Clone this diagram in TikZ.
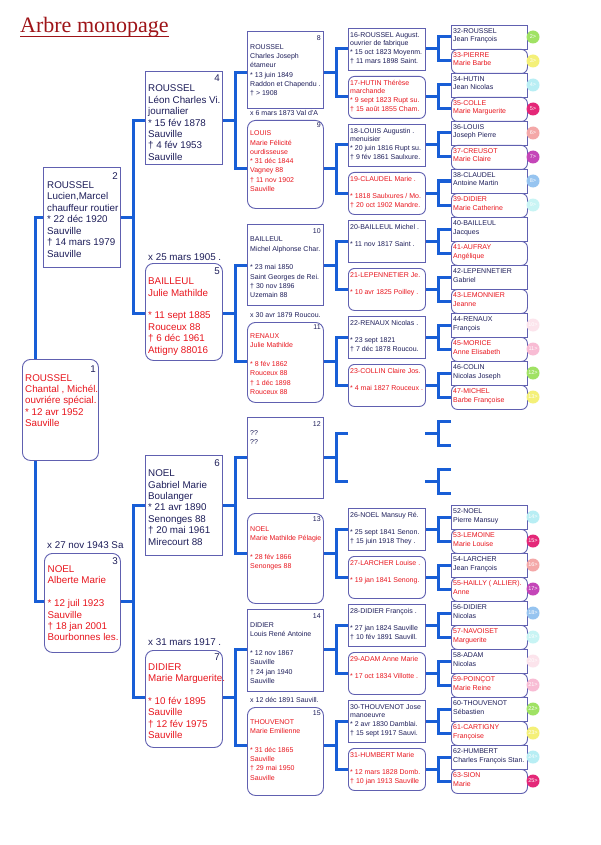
\documentclass[tikz,border=0pt]{standalone}
\usepackage{fontspec}
\setmainfont{Liberation Sans}
\newfontfamily\titlefont{Liberation Serif}
\usetikzlibrary{backgrounds}
\definecolor{connblue}{RGB}{24,94,214}
\definecolor{boxc}{RGB}{96,96,176}
\definecolor{navy}{RGB}{30,30,90}
\definecolor{redt}{RGB}{232,22,30}
\definecolor{titlered}{RGB}{158,20,24}
\definecolor{cGreen}{RGB}{160,226,100}
\definecolor{cYellow}{RGB}{244,240,120}
\definecolor{cCyan}{RGB}{184,238,244}
\definecolor{cMagenta}{RGB}{228,40,120}
\definecolor{cSalmon}{RGB}{244,168,168}
\definecolor{cPurple}{RGB}{196,70,184}
\definecolor{cBlue}{RGB}{150,196,240}
\definecolor{cPale}{RGB}{200,244,244}
\definecolor{cPalePink}{RGB}{252,228,236}
\definecolor{cPink}{RGB}{248,188,212}
\tikzset{
  conn/.style={draw=connblue, line width=3pt, line join=miter},
  mbox/.style={draw=boxc, line width=0.9pt, fill=white, rectangle, anchor=north west, inner sep=0pt},
  fbox/.style={mbox, rounded corners=8pt},
  fboxs/.style={mbox, rounded corners=6pt},
  ghost/.style={rectangle, anchor=north west, inner sep=0pt},
  txt/.style={anchor=base west, inner sep=0pt},
  num/.style={anchor=base east, inner sep=0pt, text=navy},
  badge/.style={circle, inner sep=0pt, minimum size=13pt, text=white, font=\fontsize{5.5}{5.5}\selectfont},
}
\newcommand\fA{\fontsize{9.8}{11.4}\selectfont}
\newcommand\fB{\fontsize{7}{9.3}\selectfont}
\newcommand\fC{\fontsize{7}{8.7}\selectfont}
\newcommand\fD{\fontsize{7}{8.7}\selectfont}
\newcommand\ptx[2]{\parbox[t]{130pt}{#1\raggedright #2}}
\newcommand\famlink[6]{%
  \coordinate (fa) at (#4,#5);
  \coordinate (fb) at (#4,#6);
  \coordinate (fm) at (#4,{(#5+#6)/2});
  \draw[conn] (#1.east |- fm) -- (fm);
  \draw[conn] (#2.west |- fa) -- (fa) -- (fb) -- (#3.west |- fb);
}
\newcommand\gthree[8]{%
  \node[#1, minimum width=76pt, minimum height=#4pt] (b#2) at (247,#3) {};
  \node[txt,text=#5] (t#2) at ([shift={(3,#6)}]b#2.north west) {\ptx\fB{#8}};
  \node[num,font=\fB] (n#2) at ([shift={(-3,#7)}]b#2.north east) {#2};
}
\newcommand\gfour[5]{%
  \node[#1, minimum width=77pt, minimum height=42pt] (b#2) at (348,#3) {};
  \node[txt,text=#4] (t#2) at ([shift={(2,9.2)}]b#2.north west) {\ptx\fC{#5}};
}
\begin{document}
\begin{tikzpicture}[x=1pt,y=-1pt]
\useasboundingbox (0,0) rectangle (600,845);

% title
\node[anchor=base west, inner sep=0pt, text=titlered, font=\titlefont\fontsize{22}{24}\selectfont] (title) at (20,33) {Arbre monopage};
\draw[titlered, line width=1.1pt] ([shift={(0,3.5)}]title.base west) -- ([shift={(0,3.5)}]title.base east);

% generation 0-1
\node[fbox, minimum width=76pt, minimum height=101pt] (b1) at (22,359) {};
\node[txt,text=redt] (t1) at ([shift={(3,22)}]b1.north west) {\ptx\fA{ROUSSEL\\Chantal , Michél.\\ouvriére spécial.\\{*} 12 avr 1952\\Sauville}};
\node[num,font=\fA] (n1) at ([shift={(-3,13)}]b1.north east) {1};

\node[mbox, minimum width=77pt, minimum height=100pt] (b2) at (43,167) {};
\node[txt,text=navy] (t2) at ([shift={(4,21.6)}]b2.north west) {\ptx\fA{ROUSSEL\\Lucien,Marcel\\chauffeur routier\\{*} 22 déc 1920\\Sauville\\† 14 mars 1979\\Sauville}};
\node[num,font=\fA] (n2) at ([shift={(-3,12)}]b2.north east) {2};

\node[txt,text=navy] (l3) at (47,548.5) {\fA x 27 nov 1943 Sa};
\node[fbox, minimum width=76pt, minimum height=99pt] (b3) at (44,553) {};
\node[txt,text=redt] (t3) at ([shift={(3.5,19.5)}]b3.north west) {\ptx\fA{NOEL\\Alberte Marie\\~\\{*} 12 juil 1923\\Sauville\\† 18 jan 2001\\Bourbonnes les.}};
\node[num,font=\fA] (n3) at ([shift={(-3,11)}]b3.north east) {3};

% generation 2
\node[mbox, minimum width=77pt, minimum height=93pt] (b4) at (145,71) {};
\node[txt,text=navy] (t4) at ([shift={(3,21)}]b4.north west) {\ptx\fA{ROUSSEL\\Léon Charles Vi.\\journalier\\{*} 15 fév 1878\\Sauville\\† 4 fév 1953\\Sauville}};
\node[num,font=\fA] (n4) at ([shift={(-3,10.5)}]b4.north east) {4};

\node[txt,text=navy] (l5) at (148,260.5) {\fA x 25 mars 1905 .};
\node[fbox, minimum width=77pt, minimum height=97pt] (b5) at (145,263) {};
\node[txt,text=redt] (t5) at ([shift={(3,21.6)}]b5.north west) {\ptx\fA{BAILLEUL\\Julie Mathilde\\~\\{*} 11 sept 1885\\Rouceux 88\\† 6 déc 1961\\Attigny 88016}};
\node[num,font=\fA] (n5) at ([shift={(-3,11.5)}]b5.north east) {5};

\node[mbox, minimum width=77pt, minimum height=100pt] (b6) at (145,455) {};
\node[txt,text=navy] (t6) at ([shift={(3,21.6)}]b6.north west) {\ptx\fA{NOEL\\Gabriel Marie\\Boulanger\\{*} 21 avr 1890\\Senonges 88\\† 20 mai 1961\\Mirecourt 88}};
\node[num,font=\fA] (n6) at ([shift={(-3,11.5)}]b6.north east) {6};

\node[txt,text=navy] (l7) at (148,645.5) {\fA x 31 mars 1917 .};
\node[fbox, minimum width=77pt, minimum height=97pt] (b7) at (145,650) {};
\node[txt,text=redt] (t7) at ([shift={(3,20)}]b7.north west) {\ptx\fA{DIDIER\\Marie Marguerite.\\~\\{*} 10 fév 1895\\Sauville\\† 12 fév 1975\\Sauville}};
\node[num,font=\fA] (n7) at ([shift={(-3,10.5)}]b7.north east) {7};

% generation 3
\gthree{mbox}{8}{31}{77}{navy}{18.2}{9.5}{ROUSSEL\\Charles Joseph\\étameur\\{*} 13 juin 1849\\Raddon et Chapendu .\\† > 1908}
\node[txt,text=navy] (l9) at (250,115.8) {\fB x 6 mars 1873 Val d'A};
\gthree{fbox}{9}{120}{88}{redt}{15.8}{7.5}{LOUIS\\Marie Félicité\\ourdisseuse\\{*} 31 déc 1844\\Vagney 88\\† 11 nov 1902\\Sauville}
\gthree{mbox}{10}{224}{81}{navy}{17.8}{9.2}{BAILLEUL\\Michel Alphonse Char.\\~\\{*} 23 mai 1850\\Saint Georges de Rei.\\† 30 nov 1896\\Uzemain 88}
\node[txt,text=navy] (l11) at (250,317.5) {\fB x 30 avr 1879 Roucou.};
\gthree{fbox}{11}{322}{80}{redt}{16.5}{7.2}{RENAUX\\Julie Mathilde\\~\\{*} 8 fév 1862\\Rouceux 88\\† 1 déc 1898\\Rouceux 88}
\gthree{mbox}{12}{417}{81}{navy}{18.2}{9.5}{??\\??}
\gthree{fbox}{13}{513}{90}{redt}{18.5}{8.5}{NOEL\\Marie Mathilde Pélagie\\~\\{*} 28 fév 1866\\Senonges 88}
\gthree{mbox}{14}{609}{82}{navy}{18.5}{9.5}{DIDIER\\Louis René Antoine\\~\\{*} 12 nov 1867\\Sauville\\† 24 jan 1940\\Sauville}
\node[txt,text=navy] (l15) at (250,702.5) {\fB x 12 déc 1891 Sauvill.};
\gthree{fbox}{15}{707}{88}{redt}{17.2}{8.2}{THOUVENOT\\Marie Emilienne\\~\\{*} 31 déc 1865\\Sauville\\† 29 mai 1950\\Sauville}

% generation 4
\gfour{mbox}{16}{28}{navy}{16-ROUSSEL August.\\ouvrier de fabrique\\{*} 15 oct 1823 Moyenm.\\† 11 mars 1898 Saint.}
\gfour{fboxs}{17}{76}{redt}{17-HUTIN Thérèse\\marchande\\{*} 9 sept 1823 Rupt su.\\† 15 août 1855 Cham.}
\gfour{mbox}{18}{124}{navy}{18-LOUIS Augustin .\\menuisier\\{*} 20 juin 1816 Rupt su.\\† 9 fév 1861 Saulxure.}
\gfour{fboxs}{19}{172}{redt}{19-CLAUDEL Marie .\\~\\{*} 1818 Saulxures / Mo.\\† 20 oct 1902 Mandre.}
\gfour{mbox}{20}{220}{navy}{20-BAILLEUL Michel .\\~\\{*} 11 nov 1817 Saint .}
\gfour{fboxs}{21}{268}{redt}{21-LEPENNETIER Je.\\~\\{*} 10 avr 1825 Poilley .}
\gfour{mbox}{22}{316}{navy}{22-RENAUX Nicolas .\\~\\{*} 23 sept 1821\\† 7 déc 1878 Roucou.}
\gfour{fboxs}{23}{364}{redt}{23-COLLIN Claire Jos.\\~\\{*} 4 mai 1827 Rouceux .}
\node[ghost, minimum width=77pt, minimum height=42pt] (b24) at (348,412) {};
\node[ghost, minimum width=77pt, minimum height=42pt] (b25) at (348,460) {};
\gfour{mbox}{26}{508}{navy}{26-NOEL Mansuy Ré.\\~\\{*} 25 sept 1841 Senon.\\† 15 juin 1918 They .}
\gfour{fboxs}{27}{556}{redt}{27-LARCHER Louise .\\~\\{*} 19 jan 1841 Senong.}
\gfour{mbox}{28}{604}{navy}{28-DIDIER François .\\~\\{*} 27 jan 1824 Sauville\\† 10 fév 1891 Sauvill.}
\gfour{fboxs}{29}{652}{redt}{29-ADAM Anne Marie\\~\\{*} 17 oct 1834 Villotte .}
\gfour{mbox}{30}{700}{navy}{30-THOUVENOT Jose\\manoeuvre\\{*} 2 avr 1830 Damblai.\\† 15 sept 1917 Sauvi.}
\gfour{fboxs}{31}{748}{redt}{31-HUMBERT Marie\\~\\{*} 12 mars 1828 Domb.\\† 10 jan 1913 Sauville}

% generation 5
\foreach \i/\a/\b in {32/ROUSSEL/Jean François, 34/HUTIN/Jean Nicolas, 36/LOUIS/Joseph Pierre, 38/CLAUDEL/Antoine Martin, 40/BAILLEUL/Jacques, 42/LEPENNETIER/Gabriel, 44/RENAUX/François, 46/COLIN/Nicolas Joseph, 52/NOEL/Pierre Mansuy, 54/LARCHER/Jean François, 56/DIDIER/Nicolas, 58/ADAM/Nicolas, 60/THOUVENOT/Sébastien, 62/HUMBERT/Charles François Stan.}{
  \pgfmathsetmacro\ttop{25+24*(\i-32)}
  \node[mbox, minimum width=76pt, minimum height=24pt] (b\i) at (451,\ttop) {};
  \node[txt,text=navy] (t\i) at ([shift={(2,8.3)}]b\i.north west) {\ptx\fD{\i-\a\\\b}};
}
\foreach \i/\a/\b in {33/PIERRE/Marie Barbe, 35/COLLE/Marie Marguerite, 37/CREUSOT/Marie Claire, 39/DIDIER/Marie Catherine, 41/AUFRAY/Angélique, 43/LEMONNIER/Jeanne, 45/MORICE/Anne Elisabeth, 47/MICHEL/Barbe Françoise, 53/LEMOINE/Marie Louise, 55/{HAILLY ( ALLIER).}/Anne, 57/NAVOISET/Marguerite, 59/POINÇOT/Marie Reine, 61/CARTIGNY/Françoise, 63/SION/Marie}{
  \pgfmathsetmacro\ttop{25+24*(\i-32)}
  \node[fboxs, minimum width=76pt, minimum height=24pt] (b\i) at (451,\ttop) {};
  \node[txt,text=redt] (t\i) at ([shift={(2,8.3)}]b\i.north west) {\ptx\fD{\i-\a\\\b}};
}
\foreach \i in {48,...,51}{
  \pgfmathsetmacro\ttop{25+24*(\i-32)}
  \node[ghost, minimum width=76pt, minimum height=24pt] (b\i) at (451,\ttop) {};
}

% badges
\foreach \i/\n/\col in {32/2/cGreen,33/3/cYellow,34/4/cCyan,35/5/cMagenta,36/6/cSalmon,37/7/cPurple,38/8/cBlue,39/9/cPale,44/10/cPalePink,45/11/cPink,46/12/cGreen,47/13/cYellow,52/14/cCyan,53/15/cMagenta,54/16/cSalmon,55/17/cPurple,56/18/cBlue,57/19/cPale,58/20/cPalePink,59/21/cPink,60/22/cGreen,61/23/cYellow,62/24/cCyan,63/25/cMagenta}{
  \pgfmathsetmacro\yy{37+24*(\i-32)}
  \node[badge, fill=\col] (k\i) at (533,\yy) {\n>};
}

% connectors
\begin{pgfonlayer}{background}
\fill[white] (0,0) rectangle (600,845);
\coordinate (r0a) at (35,217);
\coordinate (r0b) at (35,601);
\draw[conn] (b2.west |- r0a) -- (r0a) -- (r0b) -- (b3.west |- r0b);
\famlink{b2}{b4}{b5}{133}{121}{313}
\famlink{b3}{b6}{b7}{133}{505}{697}
\famlink{b4}{b8}{b9}{235}{73}{169}
\famlink{b5}{b10}{b11}{235}{265}{361}
\famlink{b6}{b12}{b13}{235}{457}{553}
\famlink{b7}{b14}{b15}{235}{649}{745}
\foreach \k in {8,...,15}{
  \pgfmathtruncatemacro\cA{2*\k}
  \pgfmathtruncatemacro\cB{2*\k+1}
  \pgfmathsetmacro\ya{49+48*(\cA-16)}
  \pgfmathsetmacro\yb{\ya+48}
  \famlink{b\k}{b\cA}{b\cB}{336}{\ya}{\yb}
}
\foreach \j in {16,...,31}{
  \pgfmathtruncatemacro\cA{2*\j}
  \pgfmathtruncatemacro\cB{2*\j+1}
  \pgfmathsetmacro\ya{37+24*(\cA-32)}
  \pgfmathsetmacro\yb{\ya+24}
  \famlink{b\j}{b\cA}{b\cB}{438}{\ya}{\yb}
}
\end{pgfonlayer}
\end{tikzpicture}
\end{document}
